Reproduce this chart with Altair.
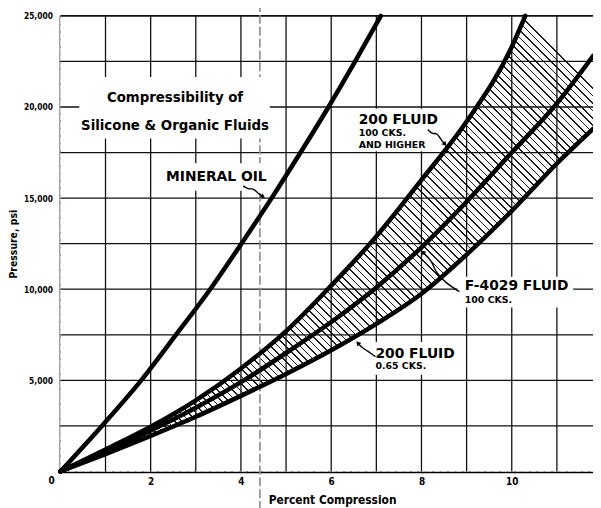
import math
import altair as alt
import pandas as pd

# ---------------- data ----------------
X_MAX = 11.8
Y_MAX = 25000

mineral_x = [0, 0.92, 1.79, 2.56, 3.32, 4.01, 4.68, 5.32, 5.94, 6.53, 7.1]
mineral_p = [0, 2500, 5000, 7500, 10000, 12500, 15000, 17500, 20000, 22500, 25000]

f200_high_x = [0, 1, 2, 3, 4, 5, 6, 7, 8, 9, 10, 10.3]
f200_high_p = [0, 1200, 2450, 3900, 5650, 7700, 10200, 12900, 16000, 19200, 23300, 25000]

f4029_x = [0, 1, 2, 3, 4, 5, 6, 7, 8, 9, 10, 11, 11.8]
f4029_p = [0, 1100, 2250, 3500, 4900, 6500, 8200, 10100, 12300, 14800, 17500, 20200, 22800]

f200_low_x = [0, 1, 2, 3, 4, 5, 6, 7, 8, 9, 10, 11, 11.8]
f200_low_p = [0, 950, 1950, 3000, 4150, 5350, 6650, 8100, 9750, 11900, 14300, 16900, 18800]

grid_x = [1, 2, 3, 4, 5, 6, 7, 8, 9, 10, 11]
grid_y = [2500, 5000, 7500, 10000, 12500, 15000, 17500, 20000, 22500]
x_ticks = [2, 4, 6, 8, 10]
y_ticks = [5000, 10000, 15000, 20000, 25000]

# annotation texts (x, y in data units)
title_lines = ["Compressibility of", "Silicone & Organic Fluids"]
title_x = [2.54, 2.54]
title_y = [20550, 19030]

big_labels = ["MINERAL OIL", "200 FLUID", "F-4029 FLUID", "200 FLUID"]
big_x = [2.34, 6.61, 8.96, 6.98]
big_y = [16160, 19280, 10195, 6450]

small_labels = ["100 CKS.", "AND HIGHER", "100 CKS.", "0.65 CKS."]
small_x = [6.61, 6.61, 8.96, 6.98]
small_y = [18550, 17920, 9410, 5800]

# white boxes behind the annotations
box_x = [0.42, 2.17, 6.46, 8.8, 6.9]
box_x2 = [4.64, 4.6, 8.45, 11.36, 8.86]
box_y = [18275, 15400, 17570, 9000, 5310]
box_y2 = [21640, 16920, 19900, 10680, 7100]

# pointer squiggles
arrows = {
    "mineral": ([4.05, 4.18, 4.27, 4.36, 4.49], [15670, 15460, 15560, 15290, 15080]),
    "high": ([8.14, 8.25, 8.34, 8.43, 8.52], [18760, 18490, 18600, 18220, 17950]),
    "f4029": ([8.84, 8.56, 8.30, 8.25, 8.03], [9870, 10300, 10950, 11500, 12040]),
    "low": ([6.98, 6.81, 6.68, 6.59], [6290, 6620, 6780, 7050]),
}

fold_x = [4.42]

# ---------------- chart ----------------
W, H = 539, 461
FONT_COND = "Liberation Sans Narrow, DejaVu Sans Condensed, Roboto Condensed, Arial Narrow, sans-serif"
FONT_WIDE = "DejaVu Sans, Verdana, sans-serif"

xs = alt.Scale(domain=[0, X_MAX], nice=False, zero=False)
ys = alt.Scale(domain=[0, Y_MAX], nice=False, zero=False)

x_axis = alt.Axis(values=x_ticks, title="Percent Compression", titleX=275)
y_axis = alt.Axis(values=y_ticks, labelExpr="format(datum.value, ',')", title="Pressure, psi")


def X(f):
    return alt.X(f, type="quantitative", scale=xs, axis=x_axis)


def Y(f):
    return alt.Y(f, type="quantitative", scale=ys, axis=y_axis)


# hatch pattern via striped linear gradient (45 degree lines)
N = 124
lw = 0.0017
stops = []
for i in range(N):
    t0 = i / N
    stops += [
        alt.GradientStop(offset=t0, color="#1a1a1a"),
        alt.GradientStop(offset=t0 + lw, color="#1a1a1a"),
        alt.GradientStop(offset=t0 + lw, color="white"),
        alt.GradientStop(offset=(i + 1) / N, color="white"),
    ]
hatch_fill = alt.LinearGradient(gradient="linear", stops=stops, x1=0, y1=1, x2=1,
                                y2=1 - H / W)

frame_df = pd.DataFrame({"x": [0], "x2": [X_MAX], "y": [0], "y2": [Y_MAX]})
hatch = alt.Chart(frame_df).mark_rect(fill=hatch_fill).encode(
    x=X("x"), x2="x2", y=Y("y"), y2="y2")

top_df = pd.DataFrame({"x": f200_high_x, "p": f200_high_p, "cap": [Y_MAX] * len(f200_high_x)})
cover_top = alt.Chart(top_df).mark_area(color="white", interpolate="monotone", opacity=1).encode(
    x=X("x"), y=Y("p"), y2="cap")

low_df = pd.DataFrame({"x": f200_low_x, "p": f200_low_p, "base": [0] * len(f200_low_x)})
cover_low = alt.Chart(low_df).mark_area(color="white", interpolate="monotone", opacity=1).encode(
    x=X("x"), y=Y("p"), y2="base")

gx = alt.Chart(pd.DataFrame({"x": grid_x})).mark_rule(color="#111", strokeWidth=1.3).encode(x=X("x"))
gy = alt.Chart(pd.DataFrame({"y": grid_y})).mark_rule(color="#111", strokeWidth=1.3).encode(y=Y("y"))
top_border = alt.Chart(pd.DataFrame({"y": [Y_MAX]})).mark_rule(color="#111", strokeWidth=1.6).encode(y=Y("y"))

fold = alt.Chart(pd.DataFrame({"x": fold_x})).mark_rule(
    color="#8a8a8a", strokeWidth=1.6, strokeDash=[9, 3]).encode(
    x=X("x"), y=alt.value(-13), y2=alt.value(500))

boxes = alt.Chart(pd.DataFrame({"x": box_x, "x2": box_x2, "y": box_y, "y2": box_y2})).mark_rect(
    color="white").encode(x=X("x"), x2="x2", y=Y("y"), y2="y2")

curves_df = pd.concat([
    pd.DataFrame({"x": mineral_x, "p": mineral_p, "s": "Mineral oil"}),
    pd.DataFrame({"x": f200_high_x, "p": f200_high_p, "s": "200 fluid 100 cks"}),
    pd.DataFrame({"x": f4029_x, "p": f4029_p, "s": "F-4029"}),
    pd.DataFrame({"x": f200_low_x, "p": f200_low_p, "s": "200 fluid 0.65 cks"}),
])
curves = alt.Chart(curves_df).mark_line(color="black", strokeWidth=4.6, interpolate="monotone",
                                        strokeCap="round").encode(
    x=X("x"), y=Y("p"), detail="s")

# pointer lines + arrow heads
arr_rows, head_rows = [], []
for name, (ax_, ay_) in arrows.items():
    for k, (a, b) in enumerate(zip(ax_, ay_)):
        arr_rows.append({"a": name, "k": k, "x": a, "y": b})
    dx = (ax_[-1] - ax_[-2]) * W / X_MAX
    dy_down = -(ay_[-1] - ay_[-2]) * H / Y_MAX
    ang = math.degrees(math.atan2(dx, -dy_down)) % 360
    head_rows.append({"x": ax_[-1], "y": ay_[-1], "ang": ang})
arr = alt.Chart(pd.DataFrame(arr_rows)).mark_line(color="black", strokeWidth=1.4,
                                                   interpolate="basis").encode(
    x=X("x"), y=Y("y"), detail="a", order="k")
heads = alt.Chart(pd.DataFrame(head_rows)).mark_point(shape="triangle-up", filled=True,
                                                       color="black", size=28, opacity=1).encode(
    x=X("x"), y=Y("y"), angle=alt.Angle("ang:Q", scale=None))

title = alt.Chart(pd.DataFrame({"x": title_x, "y": title_y, "t": title_lines})).mark_text(
    font=FONT_COND, fontSize=15, fontWeight="bold", color="black", align="center",
    baseline="middle").encode(x=X("x"), y=Y("y"), text="t")

big = alt.Chart(pd.DataFrame({"x": big_x, "y": big_y, "t": big_labels})).mark_text(
    font=FONT_WIDE, fontSize=14, fontWeight="bold", color="black", align="left",
    baseline="middle").encode(x=X("x"), y=Y("y"), text="t")

small = alt.Chart(pd.DataFrame({"x": small_x, "y": small_y, "t": small_labels})).mark_text(
    font=FONT_WIDE, fontSize=9.5, fontWeight="bold", color="black", align="left",
    baseline="middle").encode(x=X("x"), y=Y("y"), text="t")

origin = alt.Chart(pd.DataFrame({"x": [0], "y": [0], "t": ["0"]})).mark_text(
    font=FONT_COND, fontSize=10, fontWeight="bold", color="black", align="center",
    baseline="middle", dx=-9, dy=10).encode(x=X("x"), y=Y("y"), text="t")

chart = alt.layer(
    hatch, cover_top, cover_low, gx, gy, top_border, fold, boxes, curves, arr, heads,
    title, big, small, origin
).properties(
    width=W, height=H, autosize="none",
    padding={"left": 53, "top": 5, "right": 0, "bottom": 34},
).configure_view(stroke=None).configure_axis(
    ticks=False, grid=False, domainColor="black", domainWidth=2.5,
    labelFont=FONT_COND, labelFontWeight="bold", labelColor="black",
    titleFont=FONT_COND, titleFontWeight="bold", titleColor="black",
).configure_axisX(
    labelFontSize=10, labelPadding=5, titleFontSize=12, titlePadding=8, titleAlign="center",
).configure_axisY(
    labelFontSize=8.5, labelPadding=8, titleFontSize=10.5, titlePadding=5,
)

chart.save("out.html", embed_options={"renderer": "svg", "actions": False})
